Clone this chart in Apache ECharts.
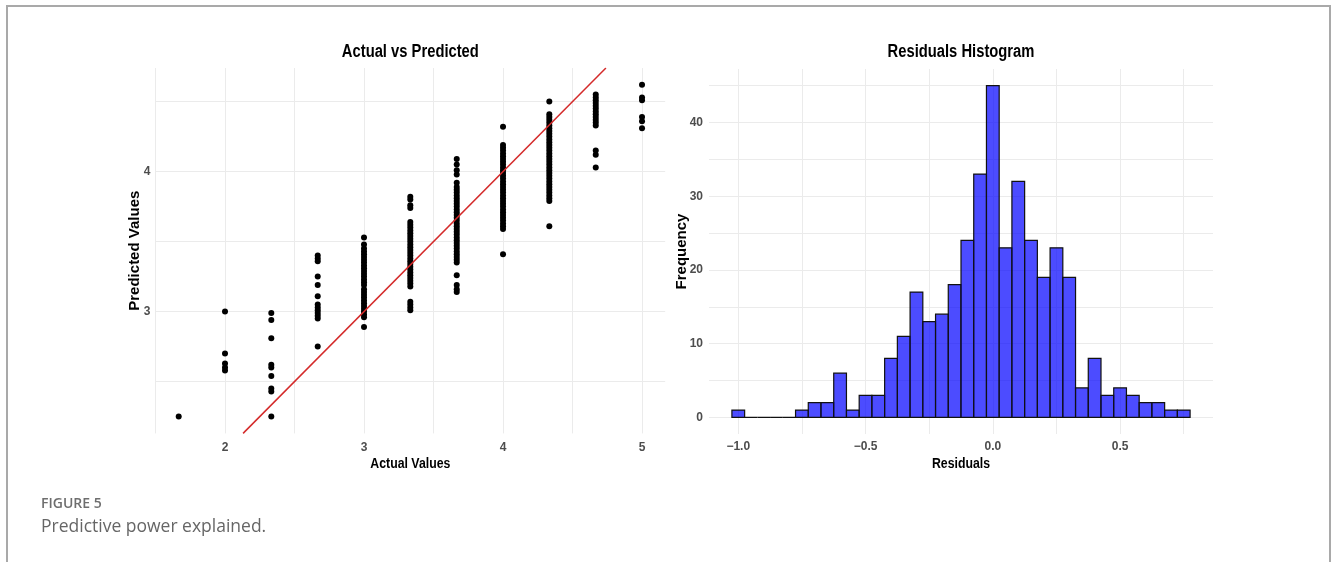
<!DOCTYPE html>
<html><head><meta charset="utf-8">
<script src="https://cdn.jsdelivr.net/npm/echarts@6/dist/echarts.min.js"></script>
<style>html,body{margin:0;padding:0;background:#fff}#c{width:1333px;height:562px}</style>
</head><body><div id="c"></div>
<script>
// ---------- Scatter data: predicted values grouped by actual value ----------
const actualLevels = [1.667, 2, 2.333, 2.667, 3, 3.333, 3.667, 4, 4.333, 4.667, 5];
const predAt1_667 = [2.25];
const predAt2 = [3.00, 2.70, 2.63, 2.60, 2.58];
const predAt2_333 = [2.99, 2.94, 2.81, 2.62, 2.60, 2.54, 2.45, 2.43, 2.25];
const predAt2_667 = [3.40, 3.38, 3.36, 3.25, 3.19, 3.11, 3.05, 3.03, 3.01, 2.99, 2.97, 2.95, 2.75];
const predAt3 = [3.53, 3.48, 3.45, 3.43, 3.41, 3.39, 3.37, 3.35, 3.33, 3.31, 3.29, 3.27, 3.25, 3.23,
  3.21, 3.19, 3.16, 3.14, 3.12, 3.10, 3.08, 3.06, 3.04, 3.02, 3.00, 2.98, 2.96, 2.89];
const predAt3_333 = [3.82, 3.80, 3.76, 3.74, 3.64, 3.62, 3.60, 3.58, 3.56, 3.54, 3.52, 3.50, 3.48,
  3.46, 3.44, 3.42, 3.40, 3.38, 3.36, 3.34, 3.32, 3.30, 3.28, 3.26, 3.24, 3.22, 3.20, 3.18,
  3.07, 3.05, 3.03, 3.01];
const predAt3_667 = [4.09, 4.05, 4.01, 3.98, 3.92, 3.89, 3.87, 3.85, 3.83, 3.81, 3.79, 3.77, 3.75,
  3.73, 3.71, 3.69, 3.67, 3.65, 3.63, 3.61, 3.59, 3.57, 3.55, 3.53, 3.51, 3.49, 3.47, 3.45,
  3.43, 3.41, 3.39, 3.37, 3.35, 3.26, 3.19, 3.16, 3.14];
const predAt4 = [4.32, 4.19, 4.17, 4.15, 4.13, 4.11, 4.09, 4.07, 4.05, 4.03, 4.01, 3.99, 3.97,
  3.95, 3.93, 3.91, 3.89, 3.87, 3.85, 3.83, 3.81, 3.79, 3.77, 3.75, 3.73, 3.71, 3.69, 3.67,
  3.65, 3.63, 3.61, 3.59, 3.41];
const predAt4_333 = [4.50, 4.41, 4.39, 4.37, 4.35, 4.33, 4.31, 4.29, 4.27, 4.25, 4.23, 4.21, 4.19,
  4.17, 4.15, 4.13, 4.11, 4.09, 4.07, 4.05, 4.03, 4.01, 3.99, 3.97, 3.95, 3.93, 3.91, 3.89,
  3.87, 3.85, 3.83, 3.81, 3.79, 3.61];
const predAt4_667 = [4.55, 4.53, 4.51, 4.49, 4.47, 4.45, 4.43, 4.41, 4.39, 4.37, 4.35, 4.33, 4.15, 4.12, 4.03];
const predAt5 = [4.62, 4.53, 4.51, 4.39, 4.36, 4.31];
const predictedGroups = [predAt1_667, predAt2, predAt2_333, predAt2_667, predAt3, predAt3_333,
  predAt3_667, predAt4, predAt4_333, predAt4_667, predAt5];

// ---------- Histogram data ----------
const binWidth = 0.05;
const binCenters = [-1.00, -0.95, -0.90, -0.85, -0.80, -0.75, -0.70, -0.65, -0.60, -0.55, -0.50, -0.45,
  -0.40, -0.35, -0.30, -0.25, -0.20, -0.15, -0.10, -0.05, 0.00, 0.05, 0.10, 0.15, 0.20, 0.25,
  0.30, 0.35, 0.40, 0.45, 0.50, 0.55, 0.60, 0.65, 0.70, 0.75];
const binCounts = [1, 0, 0, 0, 0, 1, 2, 2, 6, 1, 3, 3, 8, 11, 17, 13, 14, 18, 24, 33, 45, 23, 32, 24,
  19, 23, 19, 4, 8, 3, 4, 3, 2, 2, 1, 1];

// ---------- Axis extents and ticks ----------
const scatterXRange = [1.5, 5.1667];
const scatterYRange = [2.13, 4.74];
const scatterXGrid = [1.5, 2, 2.5, 3, 3.5, 4, 4.5, 5];
const scatterXTicks = [2, 3, 4, 5];
const scatterYGrid = [2.5, 3, 3.5, 4, 4.5];
const scatterYTicks = [3, 4];
const histXRange = [-1.115, 0.865];
const histYRange = [-2.25, 47.25];
const histXGrid = [-1.0, -0.75, -0.5, -0.25, 0, 0.25, 0.5, 0.75];
const histXTicks = [-1.0, -0.5, 0, 0.5];
const histYGrid = [0, 5, 10, 15, 20, 25, 30, 35, 40, 45];
const histYTicks = [0, 10, 20, 30, 40];

const scatterData = [];
actualLevels.forEach((a, i) => predictedGroups[i].forEach(p => scatterData.push([a, p])));
const histData = binCenters.map((c, i) => [c, binCounts[i]]);
const identityLine = scatterYRange.map(v => [v, v]);

const wide = "'Liberation Sans', Arial, sans-serif";
const gridColor = '#ebebeb';
const squeeze = 0.82;
const tickText = {color: '#4d4d4d', fontFamily: wide, fontWeight: 'bold', fontSize: 12};
const nameWide = {color: '#000', fontFamily: wide, fontWeight: 'bold', fontSize: 15};
const fmtHist = v => (v < 0 ? '\u2212' : '') + Math.abs(v).toFixed(1);

const panels = [
  {left: 155.5, top: 68, width: 509.7, height: 365.4},
  {left: 709, top: 69, width: 504, height: 365}
];
function squeezedText(text, cx, cy, size) {
  return {type: 'text', x: cx, y: cy, scaleX: squeeze, silent: true,
    style: {text: text, font: 'bold ' + size + 'px ' + wide, fill: '#000',
      align: 'center', verticalAlign: 'middle'}};
}
const cx0 = panels[0].left + panels[0].width / 2;
const cx1 = panels[1].left + panels[1].width / 2;

const chart = echarts.init(document.getElementById('c'), null, {renderer: 'canvas'});
chart.setOption({
  animation: false,
  backgroundColor: '#fff',
  grid: panels,
  xAxis: [
    {gridIndex: 0, type: 'value', min: scatterXRange[0], max: scatterXRange[1],
     axisLine: {show: false}, axisTick: {show: false, customValues: scatterXGrid},
     splitLine: {show: true, lineStyle: {color: gridColor, width: 1}},
     axisLabel: Object.assign({customValues: scatterXTicks, margin: 8}, tickText)},
    {gridIndex: 1, type: 'value', min: histXRange[0], max: histXRange[1],
     axisLine: {show: false}, axisTick: {show: false, customValues: histXGrid},
     splitLine: {show: true, lineStyle: {color: gridColor, width: 1}},
     axisLabel: Object.assign({customValues: histXTicks, margin: 7, formatter: fmtHist}, tickText)}
  ],
  yAxis: [
    {gridIndex: 0, type: 'value', min: scatterYRange[0], max: scatterYRange[1],
     axisLine: {show: false}, axisTick: {show: false, customValues: scatterYGrid},
     splitLine: {show: true, lineStyle: {color: gridColor, width: 1}},
     axisLabel: Object.assign({customValues: scatterYTicks, margin: 5}, tickText),
     name: 'Predicted Values', nameLocation: 'middle', nameGap: 13, nameMoveOverlap: false,
     nameTextStyle: nameWide},
    {gridIndex: 1, type: 'value', min: histYRange[0], max: histYRange[1],
     axisLine: {show: false}, axisTick: {show: false, customValues: histYGrid},
     splitLine: {show: true, lineStyle: {color: gridColor, width: 1}},
     axisLabel: Object.assign({customValues: histYTicks, margin: 6}, tickText),
     name: 'Frequency', nameLocation: 'middle', nameGap: 19.5, nameMoveOverlap: false,
     nameTextStyle: nameWide}
  ],
  series: [
    {type: 'scatter', xAxisIndex: 0, yAxisIndex: 0, data: scatterData, symbolSize: 6,
     itemStyle: {color: '#000', opacity: 1}, silent: true, z: 2},
    {type: 'line', xAxisIndex: 0, yAxisIndex: 0, data: identityLine, symbol: 'none',
     lineStyle: {color: '#d42a2a', width: 1.5}, silent: true, z: 3},
    {type: 'custom', xAxisIndex: 1, yAxisIndex: 1, data: histData, silent: true,
     renderItem: (params, api) => {
       const c = api.value(0), n = api.value(1);
       const p0 = api.coord([c - binWidth / 2, n]);
       const p1 = api.coord([c + binWidth / 2, 0]);
       return {type: 'rect',
         shape: {x: p0[0], y: p0[1], width: p1[0] - p0[0], height: p1[1] - p0[1]},
         style: {fill: 'rgba(0,0,255,0.7)', stroke: '#111', lineWidth: 1.2}};
     }}
  ],
  graphic: [
    {type: 'rect', shape: {x: 7, y: 6, width: 1323, height: 700}, silent: true,
     style: {fill: 'none', stroke: '#a9a9a9', lineWidth: 2}},
    squeezedText('Actual vs Predicted', cx0, 52.5, 18),
    squeezedText('Residuals Histogram', cx1, 52.5, 18),
    squeezedText('Actual Values', cx0, 464, 15),
    squeezedText('Residuals', cx1, 464, 15),
    {type: 'text', x: 41, y: 504, silent: true,
     style: {text: 'FIGURE 5', font: "600 14px 'Open Sans', sans-serif", fill: '#6e6e6e', verticalAlign: 'middle'}},
    {type: 'text', x: 41, y: 527, silent: true,
     style: {text: 'Predictive power explained.', font: "17.5px 'Open Sans', sans-serif", fill: '#666', verticalAlign: 'middle'}}
  ]
});
</script></body></html>
